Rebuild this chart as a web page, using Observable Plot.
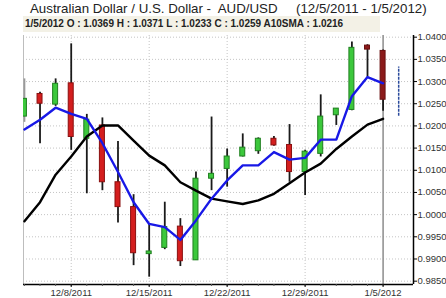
<!DOCTYPE html>
<html><head><meta charset="utf-8">
<script src="https://cdn.jsdelivr.net/npm/d3@7"></script>
<script src="https://cdn.jsdelivr.net/npm/@observablehq/plot@0.6"></script>
<style>
body{margin:0;background:#fff;font-family:"Liberation Sans",Arial,sans-serif}
#wrap{position:relative;width:446px;height:298px;overflow:hidden}
#title{position:absolute;left:30px;top:1px;font-size:13.3px;color:#222;white-space:pre;line-height:15px;z-index:2}
#info{position:absolute;left:23px;top:16px;width:357px;height:16px;background:#f3f1e6;font-size:10px;font-weight:bold;color:#222;line-height:16px;padding-left:2px;box-sizing:border-box;white-space:pre;z-index:2}
#chart{position:absolute;left:0;top:0}
</style></head>
<body><div id="wrap">
<div id="title"></div>
<div id="info"></div>
<div id="chart"></div>
</div>
<script>
const titleText = "Australian Dollar / U.S. Dollar -  AUD/USD     (12/5/2011 - 1/5/2012)";
const infoText = "1/5/2012 O : 1.0369 H : 1.0371 L : 1.0233 C : 1.0259 A10SMA : 1.0216";

const dates = ["12/5/2011","12/6/2011","12/7/2011","12/8/2011","12/9/2011","12/12/2011","12/13/2011","12/14/2011","12/15/2011","12/16/2011","12/19/2011","12/20/2011","12/21/2011","12/22/2011","12/23/2011","12/26/2011","12/27/2011","12/28/2011","12/29/2011","12/30/2011","1/2/2012","1/3/2012","1/4/2012","1/5/2012"];
const open  = [1.0221,1.0272,1.0248,1.0296,1.0171,1.0201,1.0073,1.0017,0.9911,0.9925,0.9973,0.9897,1.0081,1.0103,1.0131,1.0143,1.0171,1.0157,1.0096,1.0137,1.0224,1.0236,1.0381,1.0369];
const high  = [1.0306,1.0276,1.0306,1.0385,1.0226,1.0218,1.0165,1.0045,0.9979,1.0028,0.9991,1.0096,1.0220,1.0148,1.0182,1.0173,1.0176,1.0203,1.0145,1.0270,1.0239,1.0389,1.0383,1.0371];
const low   = [1.0208,1.0160,1.0244,1.0145,1.0047,1.0054,0.9981,0.9885,0.9859,0.9921,0.9883,0.9897,1.0054,1.0062,1.0130,1.0136,1.0154,1.0073,1.0043,1.0130,1.0201,1.0234,1.0310,1.0233];
const close = [1.0261,1.0250,1.0295,1.0175,1.0214,1.0073,1.0017,0.9913,0.9917,0.9972,0.9895,1.0081,1.0092,1.0131,1.0151,1.0171,1.0156,1.0096,1.0142,1.0221,1.0239,1.0376,1.0372,1.0259];
const shortMA = [1.0192,1.0214,1.0241,1.0227,1.0216,1.0161,1.0096,1.0028,0.9979,0.9972,0.9943,0.9987,1.0036,1.0077,1.0111,1.0111,1.0141,1.0124,1.0128,1.0169,1.0169,1.0267,1.0310,1.0296];
const sma10 = [0.9985,1.0028,1.0090,1.0131,1.0176,1.0201,1.0201,1.0167,1.0133,1.0111,1.0073,1.0054,1.0036,1.0030,1.0024,1.0032,1.0047,1.0071,1.0095,1.0115,1.0148,1.0176,1.0203,1.0216];
const darkCandles = ["1/4/2012","1/5/2012"];
const forecastDate = "1/6/2012";
const forecastLow = 1.0222, forecastHigh = 1.0333;
const selectedDate = "1/5/2012";
const xTickDates = ["12/8/2011","12/15/2011","12/22/2011","12/29/2011","1/5/2012"];
const gridDates = ["12/8/2011","12/15/2011","12/22/2011","12/29/2011"];
const yTicks = [0.9850,0.9900,0.9950,1.0000,1.0050,1.0100,1.0150,1.0200,1.0250,1.0300,1.0350,1.0400];

document.getElementById("title").textContent = titleText;
document.getElementById("info").textContent = infoText;

const rows = dates.map((d,i)=>({i, date:d, open:open[i], high:high[i], low:low[i], close:close[i], ma:shortMA[i], sma:sma10[i]}));
const idx = d => dates.indexOf(d);
const xDomain = [-0.06, dates.length + 0.95];
const yDomain = [0.98425, 1.04038];
const bodyColor = d => darkCandles.includes(d.date) ? "#8b1a1a" : (d.close >= d.open ? "#3cc83c" : "#d41e1e");
const bodyStroke = d => darkCandles.includes(d.date) ? "#6a1010" : (d.close >= d.open ? "#1f7f1f" : "#8a0f0f");
const wickColor = d => d.i === 0 ? "#9a9a9a" : "#1a1a1a";

const chart = Plot.plot({
  width: 446, height: 298,
  marginLeft: 23, marginRight: 33, marginTop: 35, marginBottom: 14,
  style: {fontFamily: '"Liberation Sans", Arial, sans-serif', background: "transparent", color: "#333"},
  x: {domain: xDomain, axis: null, label: null},
  y: {domain: yDomain, axis: null, label: null},
  marks: [
    Plot.ruleY(yTicks, {stroke: "#c4c4c4", strokeDasharray: "1,2"}),
    Plot.ruleX(gridDates.map(idx), {stroke: "#c4c4c4", strokeDasharray: "1,2"}),
    Plot.ruleX([xDomain[0]], {stroke: "#bdbdbd"}),
    Plot.ruleX([idx(selectedDate)], {stroke: "#8c8c8c", strokeWidth: 1.5}),
    Plot.ruleX(rows, {x: "i", y1: "low", y2: "high", stroke: wickColor, strokeWidth: 1.8, clip: true}),
    Plot.rect(rows, {x1: d => d.i - 0.16, x2: d => d.i + 0.16, y1: "open", y2: "close", fill: bodyColor, stroke: bodyStroke, strokeWidth: 1, clip: true}),
    Plot.line(rows, {x: "i", y: "sma", stroke: "#000", strokeWidth: 2.4, clip: true}),
    Plot.line(rows, {x: "i", y: "ma", stroke: "#1818e6", strokeWidth: 2.4, clip: true}),
    Plot.ruleX([{i: dates.length, lo: forecastLow, hi: forecastHigh, date: forecastDate}], {x: "i", y1: "lo", y2: "hi", stroke: "#2a4a9c", strokeWidth: 1.5, strokeDasharray: "3,1"}),
    Plot.ruleX([xDomain[1]], {stroke: "#000", strokeWidth: 1.5}),
    Plot.ruleY([yDomain[0]], {stroke: "#000", strokeWidth: 1.5}),
    Plot.axisY(yTicks, {anchor: "right", label: null, tickFormat: d3.format(".4f"), tickSize: 3, tickPadding: 1, fontSize: 9.5, stroke: "#000"}),
    Plot.axisX(rows.map(d => d.i), {anchor: "bottom", label: null, tickFormat: null, text: null, tickSize: 2, stroke: "#555"}),
    Plot.axisX(xTickDates.map(idx), {anchor: "bottom", label: null, tickFormat: i => dates[i], tickSize: 3, tickPadding: 2, fontSize: 9.5, stroke: "#000"})
  ]
});
document.getElementById("chart").appendChild(chart);
</script>
</body></html>
